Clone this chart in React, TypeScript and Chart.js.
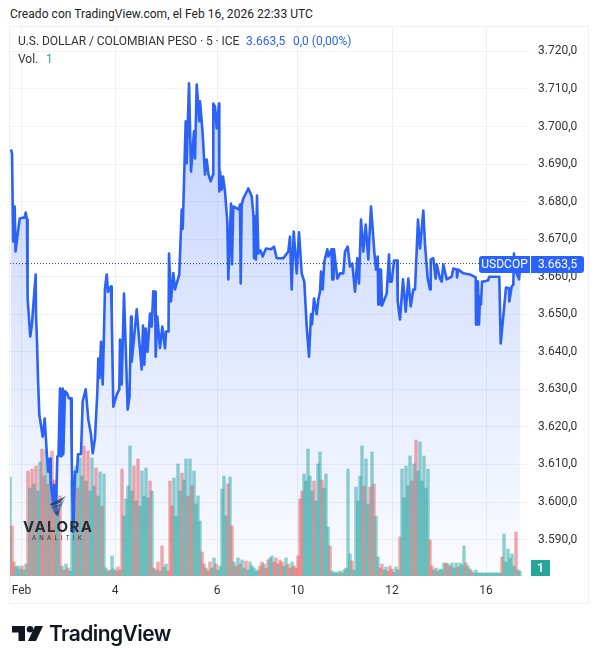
import { useEffect, useRef } from "react";
import { Chart, registerables } from "chart.js";

Chart.register(...registerables);

// bar positions and closes of the USDCOP 5 min line
const priceBars = [
  1, 2, 3.2, 4.7, 5.5, 8, 9.7, 14.7, 15.7, 17,
  17.2, 18, 20.3, 22, 23.5, 25.7, 26, 27, 28, 29.3,
  32.7, 34.7, 36.7, 38.3, 40, 40.7, 43.3, 44, 45, 46,
  47.3, 48.5, 50, 51, 51.5, 52, 52.7, 53.3, 55, 57,
  59, 61, 61.7, 63, 63.5, 65, 67, 68, 71, 72.7,
  75.7, 78.3, 81, 82.7, 85, 87.3, 88.3, 89.5, 91, 92.7,
  94, 95, 96.7, 98, 101, 101.7, 103.3, 106.7, 109.3, 110,
  111.7, 114, 117.7, 119.5, 121, 121.7, 124, 126.7, 129.3, 131.7,
  133, 134.3, 135.7, 137.5, 140, 141.7, 143.3, 145, 145.7, 147.3,
  150, 152.3, 155, 156, 158.5, 159, 161, 163.3, 165, 169.3,
  171.7, 172.7, 175.7, 176.7, 179, 181, 184, 185, 186.7, 189.3,
  190, 192.5, 195, 196.7, 198.5, 200.7, 203, 203.3, 205, 206.7,
  209, 209.3, 210, 211.7, 213, 215, 217.3, 218.3, 221, 222,
  223.3, 229, 230, 230.7, 231.7, 233.3, 238.3, 241.7, 243.5, 244,
  245, 246, 247, 248.3, 250.5, 252.7, 256, 261, 264, 266.7,
  273.3, 278.3, 280, 281.7, 283.7, 286.7, 289, 291.7, 294.3, 296.7,
  299, 301, 302, 304, 306.7, 308.3, 310, 311, 312.7, 314.3,
  317.3, 318.3, 321.5, 322.3, 323, 323.5, 324, 327.3, 330, 333.3,
  335, 337.7, 340, 342.3, 345, 347.3, 349, 351, 353.3, 355.7,
  358.3, 361, 362.5, 364.3, 366, 367.7, 368.3, 369.5, 370, 371,
  372, 376.7, 379, 380, 381.7, 384, 387, 387.7, 390, 393,
  395.7, 398.3, 400.7, 403.3, 405, 408, 410, 413.3, 415, 417.7,
  420, 420.7, 423.3, 425.7, 426.7, 430, 431.7, 433.3, 436.7, 441.7,
  443.3, 446.7, 447, 448.3, 453.3, 460, 465.7, 466, 467, 467.5,
  468, 469, 470, 471, 472, 473.3, 478, 479.3, 489.3, 490.7,
  492.3, 496, 499, 499.3, 501.7, 503.3, 504, 505, 509, 510.5,
];
const priceValues = [
  3693.9, 3692.8, 3669.4, 3678.7, 3666.7, 3672, 3675.5, 3675.8, 3677.1, 3675.2,
  3654.2, 3654.2, 3644.1, 3647.5, 3653, 3660.6, 3650, 3642.7, 3632.9, 3623.3,
  3617.4, 3622.2, 3613.4, 3608.1, 3611.6, 3605.4, 3599.3, 3604.6, 3598.3, 3597,
  3612.1, 3612.2, 3630.2, 3612.2, 3630, 3613, 3630.2, 3612.7, 3629.5, 3629,
  3627.6, 3627.6, 3612, 3592.1, 3594, 3608.1, 3608, 3612.7, 3612.8, 3626.8,
  3630, 3622, 3618, 3613, 3617, 3629, 3638.2, 3633, 3642.7, 3631.3,
  3645.4, 3656.9, 3660.6, 3656, 3657.4, 3650.2, 3625.4, 3628.6, 3630, 3643.3,
  3631.3, 3655.5, 3624.6, 3628, 3649.4, 3637.4, 3643.5, 3651.3, 3642.7, 3635.3,
  3647, 3636.6, 3646.2, 3640, 3650.2, 3646.7, 3656.1, 3656, 3638.7, 3649.4,
  3641, 3646.7, 3640.9, 3645.4, 3645.4, 3666.2, 3653.4, 3661, 3656.6, 3660.6,
  3677.9, 3672.8, 3701.4, 3690.2, 3711.5, 3688, 3698.7, 3691.5, 3711.2, 3701.4,
  3706.7, 3698.7, 3687.2, 3691.2, 3687.2, 3685.4, 3687.2, 3706.1, 3705.3, 3699.5,
  3706.1, 3682.7, 3688, 3683.2, 3686.7, 3682.7, 3674.7, 3659.3, 3679.5, 3663.3,
  3678.7, 3677.9, 3679.2, 3658.2, 3679.2, 3680.8, 3683.5, 3681.4, 3676, 3664.9,
  3676, 3664.6, 3681.6, 3666.2, 3667, 3665.4, 3667.5, 3667.3, 3668, 3664.9,
  3664.9, 3666.7, 3670.7, 3656.6, 3672, 3660.9, 3671.8, 3660.9, 3658.7, 3646.7,
  3638.7, 3650, 3647.3, 3654.2, 3650, 3653.9, 3656, 3661.4, 3656.6, 3664,
  3667.3, 3665.4, 3667.3, 3659.3, 3667.3, 3659.3, 3667.3, 3659.5, 3660.9, 3660.9,
  3666.7, 3668, 3662.7, 3663.5, 3656, 3664.9, 3658.2, 3675.2, 3666.7, 3673.9,
  3664.6, 3678.7, 3673.4, 3666.7, 3661.9, 3665.4, 3652.6, 3661.9, 3652.6, 3661.9,
  3652.3, 3655.5, 3665.9, 3658.7, 3658.7, 3664.3, 3664.3, 3653.4, 3648.6, 3659.3,
  3650.7, 3659.5, 3652.1, 3656.6, 3656.6, 3675.2, 3667.5, 3677.6, 3668.6, 3659.5,
  3656.6, 3664.6, 3664.9, 3659.5, 3663.3, 3659.5, 3658.7, 3663.3, 3659.3, 3660,
  3662.2, 3661.9, 3659.8, 3661.9, 3660.9, 3660.6, 3659.8, 3647.3, 3658.7, 3647.3,
  3658.7, 3647.3, 3654.7, 3652.6, 3658.7, 3658.7, 3659, 3660, 3660, 3642.2,
  3646.7, 3657.1, 3656.9, 3653.4, 3657.4, 3657.9, 3666.2, 3661.9, 3659.3, 3663.5,
];

// volume per two bar positions
const volumes = [
  99, 50,
  14, 9, 10, 7, 10, 6, 12,
  105, 88, 107, 92, 110, 85, 114, 127, 100, 126, 92, 112, 125, 96, 84, 70, 80,
  10, 6, 12, 8, 5,
  96, 70, 110, 88, 118, 100, 130, 95, 125, 85, 118, 90, 108, 80, 104, 70, 102,
  8, 5, 6, 20, 7, 5, 9, 6,
  107, 60, 77, 90, 130, 85, 110, 75, 117, 70, 105, 80, 108, 78, 95, 85,
  8, 6, 14, 5, 30, 9, 12, 5,
  95, 70, 98, 60, 112, 85, 103, 96, 117, 80, 117, 90, 105, 72, 80, 55,
  24, 12, 8, 5, 14, 8, 18, 12, 6, 10,
  87, 100, 60, 92, 99, 50,
  14, 10, 18, 12, 16, 8, 15, 6, 14, 10, 8, 5, 6,
  10, 14, 12, 8, 16, 18, 20, 14, 18, 12, 16, 14, 10, 18, 12, 8, 14, 10, 8,
  20, 77, 85, 102, 95, 127, 100, 85, 95, 75, 112, 124, 96, 88, 102, 49, 30,
  5, 3, 4, 3, 5, 3, 6, 8,
  107, 22, 15, 6,
  89, 75, 100, 130, 90, 117, 72, 89, 124, 92, 60, 19,
  8, 12, 6, 9, 5, 10, 7, 4, 9, 6,
  39, 107, 78, 110, 90, 120, 95, 112, 136, 105, 134, 95, 120, 88, 107, 36,
  10, 6, 8, 5, 7, 6,
  13, 13, 12, 10, 13, 8, 13, 9, 13, 11, 30, 13, 10, 7,
  5, 3, 6, 3, 3, 3, 3, 3, 3, 3, 3, 3, 3, 3, 3,
  19, 42, 14, 27, 18, 22, 10, 44, 6, 5,
];
// u = up bar, d = down bar, same order and grouping as volumes
const volumeDirs = [
  "ud",
  "duuuduu",
  "dududuuddududduud",
  "ududu",
  "uuuduududuuuduudu",
  "uuduuddu",
  "duuuuududuuuuudu",
  "dududuud",
  "dduuuuduududuuuu",
  "ddudduuduu",
  "uuudud",
  "ududuuduuuuuu",
  "ddudduuddudduuddudd",
  "ddduuuuuduuuduuud",
  "uuuuuduu",
  "uudu",
  "uuuuduududuu",
  "dduuddduuu",
  "duuuuududuuuuuud",
  "duuduu",
  "ududuuuduuuduu",
  "duuuuuuuuuuuuuu",
  "duuuuuuduu",
].join("");

const xTickBars = [11.5, 105, 207, 287.5, 382, 476];
const xTickLabels = ["Feb", "4", "6", "10", "12", "16"];
const priceTicks = [
  3590, 3600, 3610, 3620, 3630, 3640, 3650, 3660, 3670, 3680, 3690, 3700, 3710, 3720,
];
const lastPrice = 3663.5;
const lastVolume = 1;
const tagName = "USDCOP";

const BLUE = "#2962ff";
const TEAL = "#26a69a";
const FONT = "Roboto, sans-serif";

const esNumber = (v: number) => {
  const [i, d] = v.toFixed(1).split(".");
  return i.replace(/\B(?=(\d{3})+$)/g, ".") + "," + d;
};

// blue last price tags and the volume tag on the axis
const tagsPlugin = {
  id: "tags",
  afterDraw(chart: any) {
    const { ctx, chartArea, scales } = chart;
    const y = Math.round(scales.y.getPixelForValue(lastPrice));
    ctx.save();
    ctx.textBaseline = "middle";
    ctx.font = `12px ${FONT}`;
    ctx.fillStyle = BLUE;
    ctx.beginPath();
    ctx.roundRect(479, y - 8, 51, 17, [3, 0, 0, 3]);
    ctx.fill();
    ctx.beginPath();
    ctx.roundRect(531, y - 8, 53, 17, [0, 3, 3, 0]);
    ctx.fill();
    ctx.fillStyle = "#ffffff";
    ctx.textAlign = "center";
    ctx.fillText(tagName, 504.5, y + 1);
    ctx.fillText(esNumber(lastPrice), 557.5, y + 1);
    ctx.fillStyle = TEAL;
    ctx.fillRect(531, chartArea.bottom - 16, 19, 16);
    ctx.fillStyle = "#ffffff";
    ctx.font = `bold 12px ${FONT}`;
    ctx.fillText(String(lastVolume), 540.5, chartArea.bottom - 7);
    ctx.restore();
  },
};

export default function App() {
  const canvasRef = useRef<HTMLCanvasElement>(null);

  useEffect(() => {
    if (!canvasRef.current) return;
    const chart = new Chart(canvasRef.current, {
      type: "bar",
      data: {
        datasets: [
          {
            type: "line",
            label: "Last",
            data: [
              { x: 0, y: lastPrice },
              { x: 470, y: lastPrice },
            ],
            yAxisID: "y",
            borderColor: "#1f3f96",
            borderWidth: 1,
            borderDash: [1, 2],
            pointRadius: 0,
            order: 0,
          },
          {
            type: "line",
            label: "USDCOP",
            data: priceBars.map((x, i) => ({ x, y: priceValues[i] })),
            yAxisID: "y",
            borderColor: "#2c62f5",
            borderWidth: 2.6,
            borderJoinStyle: "round",
            pointRadius: 0,
            tension: 0,
            fill: "start",
            backgroundColor: (c: any) => {
              const area = c.chart.chartArea;
              if (!area) return "transparent";
              const g = c.chart.ctx.createLinearGradient(0, 82, 0, area.bottom);
              g.addColorStop(0, "rgba(41,98,255,0.28)");
              g.addColorStop(1, "rgba(41,98,255,0.02)");
              return g;
            },
            order: 1,
          },
          {
            type: "bar",
            label: "Vol",
            data: volumes.map((y, i) => ({ x: i * 2, y })),
            yAxisID: "vol",
            barThickness: 2.8,
            backgroundColor: volumes.map((_, i) =>
              volumeDirs[i] === "u" ? "rgba(38,166,154,0.5)" : "rgba(239,83,80,0.5)",
            ),
            order: 2,
          },
        ],
      },
      options: {
        responsive: false,
        animation: false,
        layout: { padding: { left: 10, top: 27, right: 9, bottom: 61 } },
        plugins: {
          legend: { display: false },
          tooltip: { enabled: false },
        },
        scales: {
          x: {
            type: "linear",
            offset: false,
            min: 0,
            max: 519,
            grid: { color: "#edf0f6", drawTicks: false, offset: false },
            border: { display: false },
            afterBuildTicks: (s: any) => {
              s.ticks = xTickBars.map((value) => ({ value }));
            },
            afterFit: (s: any) => {
              s.height = 27;
            },
            ticks: {
              autoSkip: false,
              maxRotation: 0,
              padding: 8,
              color: "#333333",
              font: { family: FONT, size: 12 },
              callback: (v: any) => xTickLabels[xTickBars.indexOf(Number(v))],
            },
          },
          y: {
            position: "right",
            min: 3580.3,
            max: 3726.5,
            grid: { color: "#f1f3f8", drawTicks: false },
            border: { display: false },
            afterBuildTicks: (s: any) => {
              s.ticks = priceTicks.map((value) => ({ value }));
            },
            afterFit: (s: any) => {
              s.width = 60;
            },
            ticks: {
              padding: 9,
              color: "#333333",
              font: { family: FONT, size: 12 },
              callback: (v: any) => esNumber(Number(v)),
            },
          },
          vol: {
            display: false,
            min: 0,
            max: 549,
          },
        },
      },
      plugins: [tagsPlugin],
    } as any);
    return () => chart.destroy();
  }, []);

  const text = (left: number, top: number, color: string, size = 12) => ({
    position: "absolute" as const,
    left,
    top,
    color,
    fontSize: size,
    lineHeight: "16px",
    fontFamily: FONT,
    whiteSpace: "nowrap" as const,
  });

  return (
    <div
      style={{
        position: "absolute",
        left: 0,
        top: 0,
        width: 598,
        height: 664,
        overflow: "hidden",
        background: "#ffffff",
      }}
    >
      <div style={{ ...text(10, 6, "#222222"), letterSpacing: 0.05 }}>
        Creado con TradingView.com, el Feb 16, 2026 22:33 UTC
      </div>
      <div
        style={{
          position: "absolute",
          left: 9,
          top: 26,
          width: 578,
          height: 576,
          border: "1px solid #eff0f3",
        }}
      />
      <canvas
        ref={canvasRef}
        width={598}
        height={664}
        style={{ position: "absolute", left: 0, top: 0 }}
      />
      <div style={{ ...text(18, 33, "#333333"), letterSpacing: -0.05 }}>
        U.S. DOLLAR / COLOMBIAN PESO · 5 · ICE
      </div>
      <div style={text(246, 33, BLUE)}>3.663,5</div>
      <div style={text(293, 33, BLUE)}>0,0 (0,00%)</div>
      <div style={text(18, 51, "#333333")}>Vol.</div>
      <div style={text(46, 51, TEAL)}>1</div>

      {/* watermark */}
      <svg
        width={20}
        height={22}
        viewBox="0 0 20 22"
        style={{ position: "absolute", left: 47, top: 496, opacity: 0.8 }}
      >
        <path d="M19 0 L11 4 L3 8 L4 10 L13 7 Z" fill="#1f3f66" />
        <path d="M18 3 L13 8 L4 11 L5 13 L14 10 Z" fill="#2b5a8a" />
        <path d="M16 8 L13 11 L5 14 L7 17 L13 13 Z" fill="#3d6f9e" />
        <path d="M13 13 L8 17 L11 21 Z" fill="#1f3f66" />
      </svg>
      <div
        style={{
          ...text(23, 519, "#2a2a33", 15),
          fontWeight: 700,
          letterSpacing: 1.4,
          fontFamily: "Inter, sans-serif",
        }}
      >
        VALORA
      </div>
      <div
        style={{
          ...text(32, 530, "#33333c", 6),
          letterSpacing: 3.2,
          fontFamily: "Inter, sans-serif",
        }}
      >
        ANALITIK
      </div>

      {/* footer logo */}
      <svg
        width={31}
        height={15}
        viewBox="0 0 31 15"
        style={{ position: "absolute", left: 12, top: 626 }}
      >
        <path d="M0 0 H13 V15 H6.5 V6.5 H0 Z" fill="#131722" />
        <circle cx={18} cy={3.3} r={3.3} fill="#131722" />
        <path d="M23 0 H31 L24 15 H16 Z" fill="#131722" />
      </svg>
      <div
        style={{
          ...text(49, 622, "#131722", 21),
          lineHeight: "24px",
          fontWeight: 600,
          fontFamily: "Inter, sans-serif",
          letterSpacing: -0.55,
        }}
      >
        TradingView
      </div>
    </div>
  );
}
